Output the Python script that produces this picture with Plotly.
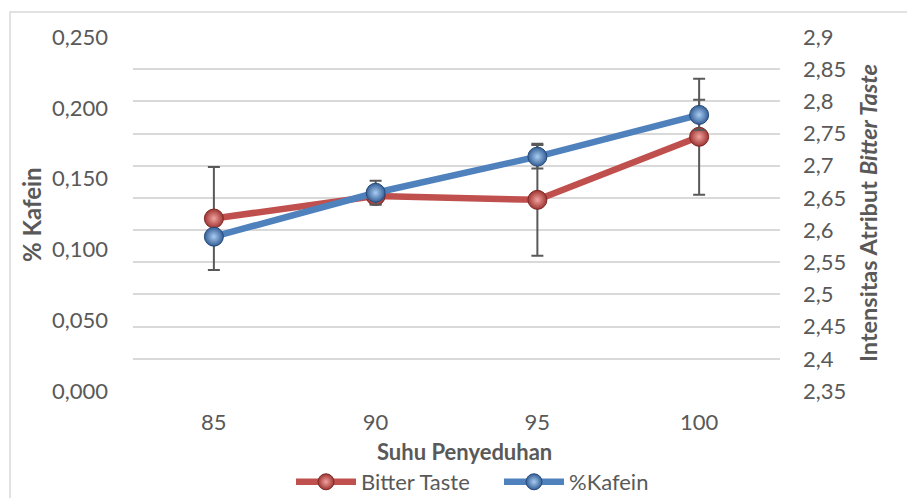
import plotly.graph_objects as go

categories = ["85", "90", "95", "100"]
bitter_taste = [2.618, 2.653, 2.647, 2.745]
bitter_err = [0.080, 0.012, 0.087, 0.090]
kafein = [0.109, 0.140, 0.1655, 0.195]
kafein_err = [0.004, 0.0085, 0.0083, 0.0106]

left_ticks = [0.0, 0.05, 0.10, 0.15, 0.20, 0.25]
left_labels = ["0,000", "0,050", "0,100", "0,150", "0,200", "0,250"]
right_ticks = [2.35, 2.4, 2.45, 2.5, 2.55, 2.6, 2.65, 2.7, 2.75, 2.8, 2.85, 2.9]
right_labels = ["2,35", "2,4", "2,45", "2,5", "2,55", "2,6", "2,65", "2,7", "2,75", "2,8", "2,85", "2,9"]

FONT = "Lato"
TXT = "#595959"
RED = "#C0504D"
BLUE = "#4F81BD"
FS = 22

L, R, T, B = 133, 127, 37, 107
PW, PH = 907 - L - R, 498 - T - B

fig = go.Figure()

fig.add_trace(go.Scatter(
    x=categories, y=bitter_taste, name="Bitter Taste", yaxis="y",
    mode="lines+markers",
    line=dict(color=RED, width=6.5),
    marker=dict(size=19, color="#9E3532", line=dict(color="#7E2725", width=1),
                gradient=dict(type="radial", color="#F2A3A0")),
    error_y=dict(type="data", array=bitter_err, visible=True,
                 color="#595959", thickness=2, width=6),
))

fig.add_trace(go.Scatter(
    x=categories, y=kafein, name="%Kafein", yaxis="y2",
    mode="lines+markers",
    line=dict(color=BLUE, width=6.5),
    marker=dict(size=19, color="#345F96", line=dict(color="#27497A", width=1),
                gradient=dict(type="radial", color="#A9CCF2")),
    error_y=dict(type="data", array=kafein_err, visible=True,
                 color="#595959", thickness=2, width=6),
))

fig.update_layout(
    width=907, height=498,
    margin=dict(l=L, r=R, t=T, b=B, autoexpand=False),
    paper_bgcolor="white", plot_bgcolor="white",
    font=dict(family=FONT, size=FS, color=TXT),
    showlegend=True,
    legend=dict(orientation="h", x=(291 - L) / PW, xanchor="left",
                y=(T + PH - 482) / PH, yanchor="middle",
                font=dict(size=FS, color=TXT), itemwidth=60, entrywidth=133,
                bgcolor="rgba(0,0,0,0)"),
    xaxis=dict(
        type="category", range=[-0.5, 3.5], automargin=False,
        showgrid=False, zeroline=False, showline=False, ticks="",
        tickfont=dict(size=FS, color=TXT), ticklabelstandoff=16,
    ),
    yaxis=dict(
        side="right", range=[2.35, 2.9], automargin=False,
        tickvals=right_ticks, ticktext=right_labels,
        showgrid=True, gridcolor="#D9D9D9", gridwidth=1.5,
        zeroline=False, showline=False, ticks="",
        tickfont=dict(size=FS, color=TXT), ticklabelstandoff=22,
    ),
    yaxis2=dict(
        side="left", overlaying="y", range=[0, 0.25], automargin=False,
        tickvals=left_ticks, ticktext=left_labels,
        showgrid=False, zeroline=False, showline=False, ticks="",
        tickfont=dict(size=FS, color=TXT), ticklabelstandoff=24,
    ),
    annotations=[
        dict(text="<b>Suhu Penyeduhan</b>", xref="paper", yref="paper",
             x=(464 - L) / PW, y=(T + PH - 452) / PH, xanchor="center", yanchor="middle",
             showarrow=False, font=dict(size=FS, color=TXT)),
        dict(text="<b>% Kafein</b>", xref="paper", yref="paper",
             x=(32 - L) / PW, y=(T + PH - 215) / PH, xanchor="center", yanchor="middle",
             textangle=-90, showarrow=False, font=dict(size=24, color=TXT)),
        dict(text="<b>Intensitas Atribut <i>Bitter Taste</i></b>", xref="paper", yref="paper",
             x=(868 - L) / PW, y=(T + PH - 213) / PH, xanchor="center", yanchor="middle",
             textangle=-90, showarrow=False, font=dict(size=23.5, color=TXT)),
    ],
    shapes=[dict(type="rect", xref="paper", yref="paper",
                 x0=(10 - L) / PW, x1=1.4, y0=-0.4, y1=1 + (T - 12) / PH,
                 line=dict(color="#D9D9D9", width=1.5), layer="below")],
)

fig.write_html("out.html", config={"displayModeBar": False},
               post_script="document.body.style.margin='0px';")
